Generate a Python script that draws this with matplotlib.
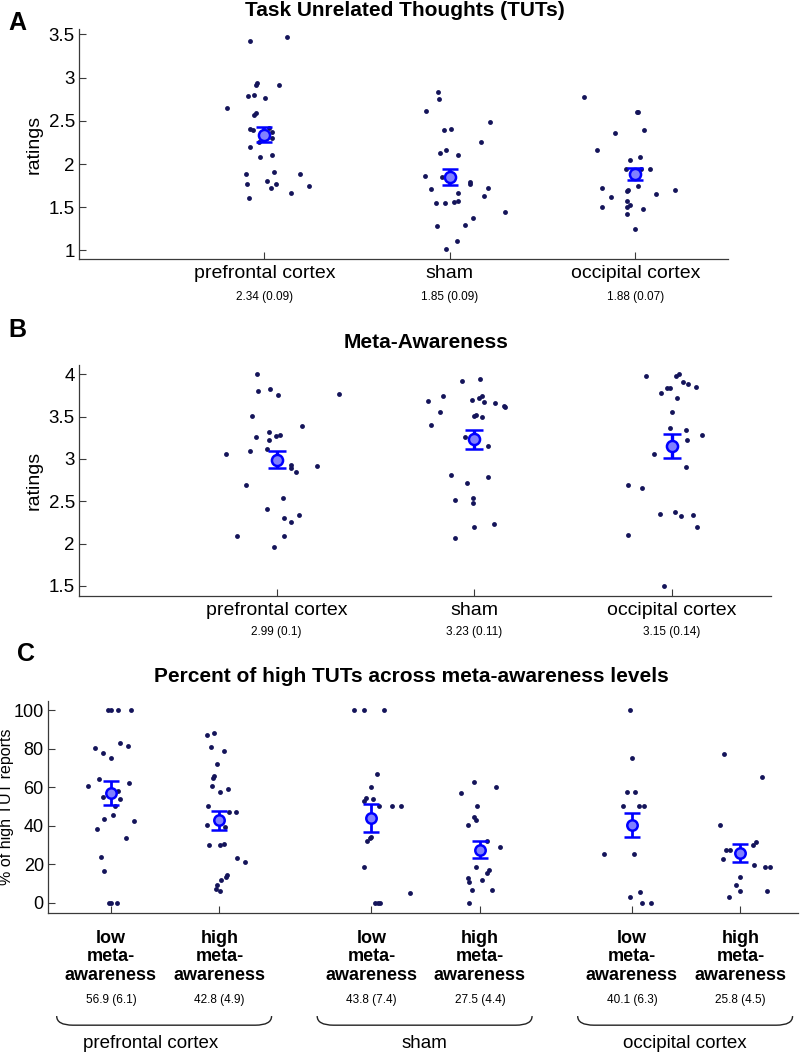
import matplotlib
matplotlib.use('Agg')
import matplotlib.pyplot as plt
import matplotlib.transforms as mtransforms
from matplotlib import font_manager
from matplotlib.path import Path
from matplotlib.patches import PathPatch
import numpy as np

# ---- data ----
sites = ['prefrontal cortex', 'sham', 'occipital cortex']

# A: task unrelated thoughts (ratings) and horizontal jitter (x units)
tut_pfc = [3.42, 3.47, 2.94, 2.92, 2.92, 2.79, 2.80, 2.77, 2.65, 2.57, 2.59, 2.41, 2.39, 2.42, 2.37,
           2.30, 2.26, 2.20, 2.08, 2.11, 1.88, 1.91, 1.88, 1.77, 1.80, 1.77, 1.74, 1.72, 1.66, 1.61]
tut_pfc_jit = [-0.08, 0.12, -0.04, -0.045, 0.08, -0.09, -0.055, 0.005, -0.20, -0.055, -0.045, -0.08, -0.06,
               0.025, 0.04, 0.04, -0.03, -0.08, -0.025, 0.04, -0.10, 0.05, 0.19, -0.095, 0.015, 0.06, 0.24,
               0.035, 0.145, -0.085]
tut_sham = [2.83, 2.75, 2.61, 2.49, 2.39, 2.40, 2.25, 2.13, 2.16, 2.11, 1.86, 1.85, 1.79, 1.77, 1.71,
            1.72, 1.63, 1.66, 1.55, 1.55, 1.56, 1.57, 1.45, 1.37, 1.28, 1.29, 1.11, 1.02]
tut_sham_jit = [-0.065, -0.06, -0.13, 0.215, -0.03, 0.007, 0.17, -0.055, -0.02, 0.045, -0.135, -0.045, 0.11,
                0.11, -0.10, 0.205, 0.185, 0.045, -0.075, -0.025, 0.02, 0.045, 0.30, 0.125, -0.07, 0.08,
                0.04, -0.02]
tut_occ = [2.78, 2.60, 2.60, 2.36, 2.39, 2.16, 2.05, 2.08, 1.94, 1.94, 1.94, 1.74, 1.72, 1.69, 1.70,
           1.70, 1.62, 1.65, 1.57, 1.50, 1.52, 1.50, 1.48, 1.42, 1.25]
tut_occ_jit = [-0.275, 0.007, 0.016, -0.11, 0.045, -0.205, -0.03, 0.025, -0.05, 0.03, 0.077, 0.016, -0.18,
               -0.045, -0.04, 0.215, -0.13, 0.11, -0.045, -0.18, -0.027, -0.045, 0.04, -0.045, 0.0]
tut_mean = [2.34, 1.85, 1.88]
tut_se = [0.09, 0.09, 0.07]

# B: meta-awareness ratings
ma_pfc = [4.00, 3.80, 3.83, 3.75, 3.77, 3.51, 3.39, 3.32, 3.26, 3.27, 3.28, 3.22, 3.12, 3.09, 3.06,
          2.93, 2.89, 2.92, 2.84, 2.69, 2.54, 2.41, 2.34, 2.30, 2.26, 2.09, 2.09, 1.96]
ma_pfc_jit = [-0.097, -0.092, -0.035, 0.005, 0.314, -0.126, 0.129, -0.038, -0.103, -0.005, 0.018, -0.038,
              -0.051, -0.136, -0.257, 0.072, 0.075, 0.203, 0.096, -0.156, 0.03, -0.049, 0.113, 0.035,
              0.072, -0.201, 0.039, -0.015]
ma_sham = [3.92, 3.94, 3.69, 3.74, 3.70, 3.72, 3.74, 3.67, 3.66, 3.63, 3.61, 3.56, 3.52, 3.51, 3.49,
           3.40, 3.26, 3.15, 2.81, 2.79, 2.71, 2.52, 2.54, 2.48, 2.20, 2.23, 2.06]
ma_sham_jit = [-0.061, 0.031, -0.232, -0.159, -0.01, 0.023, 0.041, 0.051, 0.106, 0.151, 0.156, -0.171, 0.01,
               0.0, 0.039, -0.219, -0.048, 0.072, -0.116, 0.072, -0.038, -0.098, -0.005, -0.008, -0.003,
               0.098, -0.096]
ma_occ = [3.98, 3.98, 4.00, 3.91, 3.89, 3.85, 3.84, 3.84, 3.78, 3.72, 3.55, 3.36, 3.34, 3.28, 3.22,
          3.06, 2.90, 2.69, 2.66, 2.35, 2.37, 2.32, 2.34, 2.20, 2.10, 1.50]
ma_occ_jit = [-0.133, 0.02, 0.035, 0.054, 0.08, 0.121, -0.023, -0.01, -0.055, 0.028, 0.003, -0.01, 0.072,
              0.154, 0.077, -0.093, 0.072, -0.222, -0.149, -0.059, 0.018, 0.045, 0.108, 0.126, -0.222, -0.042]
ma_mean = [2.99, 3.23, 3.15]
ma_se = [0.1, 0.11, 0.14]

# C: percent of high TUTs, low / high meta-awareness within each site
pct_pfc_low = [100, 100, 100, 100, 80.3, 77.6, 75.3, 82.9, 81.4, 64.0, 62.0, 60.5, 55.0, 57.7, 53.7,
               50.0, 45.6, 43.2, 42.5, 38.0, 33.4, 23.7, 16.6, 0, 0, 0]
pct_pfc_low_jit = [-0.023, 0.005, 0.061, 0.185, -0.146, -0.074, 0.005, 0.083, 0.157, -0.111, 0.17, -0.213,
                   -0.074, 0.065, 0.081, 0.033, 0.019, -0.062, 0.208, -0.127, 0.137, -0.09, -0.062,
                   -0.019, 0.005, 0.056]
pct_pfc_high = [87.1, 88.3, 80.6, 78.9, 71.8, 64.7, 65.6, 60.6, 58.9, 57.4, 50.0, 47.0, 47.0, 40.4, 39.0,
                29.8, 29.8, 30.6, 23.2, 20.8, 14.4, 13.3, 11.7, 9.3, 6.9, 5.8]
pct_pfc_high_jit = [-0.119, -0.052, -0.076, 0.037, -0.024, -0.061, -0.046, -0.071, 0.076, 0.006, -0.106,
                    0.09, 0.151, -0.115, 0.052, -0.094, 0.009, 0.037, 0.165, 0.236, 0.071, 0.056, 0.014,
                    -0.02, -0.033, 0.005]
pct_sham_low = [100, 100, 100, 66.7, 60.0, 54.3, 54.0, 52.6, 50.0, 50.0, 50.0, 33.9, 32.1, 33.4, 18.2,
                5.2, 0, 0, 0]
pct_sham_low_jit = [-0.161, -0.065, 0.119, 0.053, 0.0, -0.052, 0.015, -0.065, 0.185, 0.269, 0.071, 0.0,
                    -0.042, -0.009, -0.07, 0.355, 0.033, 0.057, 0.076]
pct_sham_high = [62.7, 60.0, 57.1, 50.0, 44.3, 42.9, 40.2, 32.1, 29.1, 18.2, 17.0, 15.2, 12.6, 10.6, 11.5,
                 6.3, 6.7, 0]
pct_sham_high_jit = [-0.056, 0.151, -0.172, -0.024, -0.056, -0.033, -0.109, 0.065, 0.18, -0.037, 0.083,
                     0.065, -0.109, -0.099, 0.019, -0.074, 0.113, -0.105]
pct_occ_low = [100, 75.3, 57.6, 57.6, 50.0, 50.0, 50.0, 25.1, 25.1, 5.7, 3.1, 0, 0]
pct_occ_low_jit = [-0.019, 0.0, -0.046, 0.028, -0.083, 0.065, 0.108, -0.256, 0.023, 0.074, -0.019, 0.093,
                   0.179]
pct_occ_high = [77.3, 65.3, 40.2, 31.2, 30.1, 27.3, 27.3, 22.4, 19.4, 18.7, 18.2, 13.5, 9.2, 6.1, 6.1, 3.0]
pct_occ_high_jit = [-0.151, 0.194, -0.193, 0.139, 0.114, -0.137, -0.093, -0.165, 0.128, 0.222, 0.274, 0.0,
                    -0.044, 0.0, 0.241, -0.104]
pct_mean = [56.9, 42.8, 43.8, 27.5, 40.1, 25.8]
pct_se = [6.1, 4.9, 7.4, 4.4, 6.3, 4.5]
levels = ['low\nmeta-\nawareness', 'high\nmeta-\nawareness']

# ---- fonts ----
names = {f.name for f in font_manager.fontManager.ttflist}
narrow = 'Liberation Sans Narrow' if 'Liberation Sans Narrow' in names else 'Liberation Sans'
plt.rcParams['font.family'] = [narrow, 'DejaVu Sans']

DOT = '#14145a'
BLUE = '#0000ff'
FACE = '#8080ff'

fig = plt.figure(figsize=(8, 10.56), dpi=100)


def rect(l, t, r, b):
    return [l / 800, 1 - b / 1056, (r - l) / 800, (b - t) / 1056]


def fpos(x, y):
    return x / 800, 1 - y / 1056


def style(ax):
    for s in ['top', 'right']:
        ax.spines[s].set_visible(False)
    for s in ['left', 'bottom']:
        ax.spines[s].set_color('#3a3a3a')
        ax.spines[s].set_linewidth(0.9)
    ax.tick_params(direction='in', length=5, width=0.8, color='#3a3a3a', labelsize=14)
    ax.tick_params(axis='y', pad=3, labelsize=13.5)


def dots(ax, x0, vals, jit):
    ax.plot(x0 + np.array(jit), vals, 'o', ms=3.5, color=DOT, mec='none', zorder=2)


def means(ax, xs, m, se, ms, lw, cap):
    ax.errorbar(xs, m, yerr=se, fmt='o', ms=ms, mfc=FACE, mec=BLUE, mew=1.8, ecolor=BLUE,
                elinewidth=lw, capsize=cap, capthick=lw, zorder=3)


# ---- panel A ----
axA = fig.add_axes(rect(79, 29.3, 728, 259))
style(axA)
xA = np.arange(1, 4)
for x0, v, j in zip(xA, [tut_pfc, tut_sham, tut_occ], [tut_pfc_jit, tut_sham_jit, tut_occ_jit]):
    dots(axA, x0, v, j)
means(axA, xA, tut_mean, tut_se, 8, 2.6, 5.5)
axA.set_xlim(0, 3.5)
axA.set_ylim(0.9, 3.56)
axA.set_yticks([1, 1.5, 2, 2.5, 3, 3.5], ['1', '1.5', '2', '2.5', '3', '3.5'])
axA.set_xticks(xA, sites)
axA.tick_params(axis='x', pad=4)
axA.set_ylabel('ratings', family='Liberation Sans', fontsize=14, labelpad=4)
for x0, m, s in zip(xA, tut_mean, tut_se):
    axA.annotate(f'{m:g} ({s:g})', xy=(x0, 0), xycoords=('data', 'axes fraction'),
                 xytext=(0, -27.5), textcoords='offset points', ha='center', va='center', fontsize=8.5)

# ---- panel B ----
axB = fig.add_axes(rect(79, 365, 770.7, 596))
style(axB)
for x0, v, j in zip(xA, [ma_pfc, ma_sham, ma_occ], [ma_pfc_jit, ma_sham_jit, ma_occ_jit]):
    dots(axB, x0, v, j)
means(axB, xA, ma_mean, ma_se, 8, 2.4, 6.5)
axB.set_xlim(0, 3.5)
axB.set_ylim(1.38, 4.11)
axB.set_yticks([1.5, 2, 2.5, 3, 3.5, 4], ['1.5', '2', '2.5', '3', '3.5', '4'])
axB.set_xticks(xA, sites)
axB.tick_params(axis='x', pad=4)
axB.set_ylabel('ratings', family='Liberation Sans', fontsize=14, labelpad=4)
for x0, m, s in zip(xA, ma_mean, ma_se):
    axB.annotate(f'{m:g} ({s:g})', xy=(x0, 0), xycoords=('data', 'axes fraction'),
                 xytext=(0, -26), textcoords='offset points', ha='center', va='center', fontsize=8.5)

# ---- panel C ----
axC = fig.add_axes(rect(48, 701, 798, 913.3))
style(axC)
xC = np.array([1, 2, 3.4, 4.4, 5.8, 6.8])
groups = [(pct_pfc_low, pct_pfc_low_jit), (pct_pfc_high, pct_pfc_high_jit),
          (pct_sham_low, pct_sham_low_jit), (pct_sham_high, pct_sham_high_jit),
          (pct_occ_low, pct_occ_low_jit), (pct_occ_high, pct_occ_high_jit)]
for x0, (v, j) in zip(xC, groups):
    dots(axC, x0, v, j)
means(axC, xC, pct_mean, pct_se, 7.5, 2.0, 5.5)
axC.set_xlim(0.42, 7.33)
axC.set_ylim(-5.6, 104.7)
axC.set_yticks(range(0, 101, 20))
axC.tick_params(axis='y', labelsize=13)
axC.set_xticks(xC, levels * 3, fontweight='bold', fontsize=13, linespacing=1.1)
axC.tick_params(axis='x', pad=12)
axC.set_ylabel('% of high TUT reports', family='Liberation Sans', fontsize=11.5, labelpad=0)
for x0, m, s in zip(xC, pct_mean, pct_se):
    axC.annotate(f'{m:g} ({s:g})', xy=(x0, 0), xycoords=('data', 'axes fraction'),
                 xytext=(0, -62.5), textcoords='offset points', ha='center', va='center', fontsize=8.5)

# braces under each site pair
blend = mtransforms.blended_transform_factory(axC.transData, axC.transAxes)
y_top, y_bot, r = -0.484, -0.527, 0.15
for i, site in enumerate(sites):
    x0, x1 = xC[2 * i] - 0.5, xC[2 * i + 1] + 0.48
    verts = [(x0, y_top), (x0, y_bot), (x0 + r, y_bot), (x1 - r, y_bot), (x1, y_bot), (x1, y_top)]
    codes = [Path.MOVETO, Path.CURVE3, Path.CURVE3, Path.LINETO, Path.CURVE3, Path.CURVE3]
    axC.add_patch(PathPatch(Path(verts, codes), transform=blend, fill=False, lw=1.0,
                            color='#222222', clip_on=False))
    axC.text((x0 + x1) / 2 - (0.12 if i == 0 else 0), -0.615, site, transform=blend,
             ha='center', va='center', fontsize=13.5)

# ---- titles and panel letters ----
fig.text(*fpos(405, 11), 'Task Unrelated Thoughts (TUTs)', ha='center', va='center',
         fontsize=15, fontweight='bold')
fig.text(*fpos(426, 343), 'Meta-Awareness', ha='center', va='center', fontsize=15, fontweight='bold')
fig.text(*fpos(411, 677), 'Percent of high TUTs across meta-awareness levels', ha='center',
         va='center', fontsize=15, fontweight='bold')
for lx, ly, letter in [(17, 23, 'A'), (17, 330, 'B'), (26, 654, 'C')]:
    fig.text(*fpos(lx, ly), letter, ha='center', va='center', fontsize=18, fontweight='bold',
             family='Liberation Sans')

fig.savefig('out.png', dpi=100)
